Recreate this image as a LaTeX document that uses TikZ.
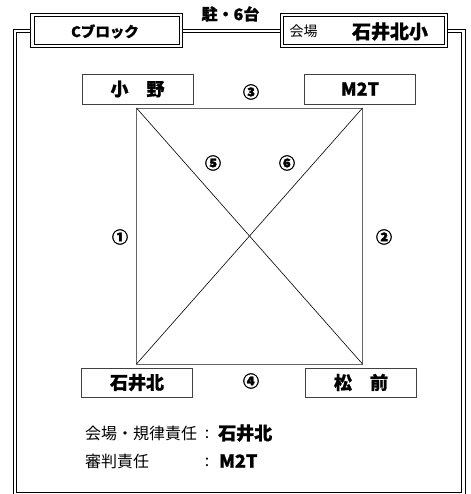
\documentclass[tikz,border=0pt]{standalone}
\usepackage{fontspec}
\setmainfont{Noto Sans CJK JP}[BoldFeatures={FakeBold=0.8}]
\newfontfamily\numfont{Noto Sans CJK JP}[BoldFeatures={FakeBold=2}]
\begin{document}
\begin{tikzpicture}[x=1pt,y=-1pt,
  frame/.style={draw=black, line width=1pt, double=white, double distance=2.5pt},
  hdr/.style={draw=black, line width=1.3pt, double=white, double distance=2.2pt, fill=white},
  pbox/.style={draw=black!75, line width=0.8pt, fill=white, minimum width=111pt, minimum height=30pt, inner sep=0pt, font=\bfseries\fontsize{18}{18}\selectfont},
  court/.style={draw=black!60, line width=0.9pt},
  diag/.style={draw=black, line width=0.6pt},
  num/.style={inner sep=0pt, font=\numfont\bfseries\fontsize{16}{16}\selectfont},
  txt/.style={inner sep=0pt, anchor=west, font=\fontsize{16}{16}\selectfont},
  btxt/.style={inner sep=0pt, anchor=west, font=\bfseries\fontsize{18}{18}\selectfont}]
\useasboundingbox (0,0) rectangle (470,494);
\fill[white] (0,0) rectangle (470,494);
% outer frame
\draw[frame] (15,31) rectangle (463.5,494);
% header boxes
\draw[hdr] (32.5,15) rectangle (181,46);
\draw[hdr] (282,15) rectangle (446,46);
\node[inner sep=0pt, font=\bfseries\fontsize{14.5}{14.5}\selectfont] (blk) at (105,31.5) {Cブロック};
\node[inner sep=0pt, font=\fontsize{14}{14}\selectfont] (kai) at (303.5,31.5) {会場};
\node[inner sep=0pt, font=\bfseries\fontsize{19}{19}\selectfont] (ven) at (390,31.5) {石井北小};
\node[inner sep=0pt, font=\bfseries\fontsize{16}{16}\selectfont] (park) at (230.5,14) {駐・6台};
% court
\coordinate (tl) at (136.5,108);
\coordinate (tr) at (362.5,108);
\coordinate (bl) at (136.5,364);
\coordinate (br) at (362.5,364);
\draw[court] (tl) -- (tr) -- (br) -- (bl) -- cycle;
\draw[diag] (tl) -- (br);
\draw[diag] (tr) -- (bl);
% team boxes
\node[pbox] (ono) at (137.5,89) {小　野};
\node[pbox] (m2t) at (360,89) {M2T};
\node[pbox, minimum height=29pt] (ish) at (137,382.5) {石井北};
\node[pbox, minimum height=29pt] (mat) at (361,382.5) {松　前};
% match numbers
\node[num] (n3) at (251,92) {③};
\node[num] (n4) at (251,381) {④};
\node[num] (n1) at (120,237) {①};
\node[num] (n2) at (384,237) {②};
\node[num] (n5) at (213,163) {⑤};
\node[num] (n6) at (287,163) {⑥};
% responsibilities
\node[txt] (r1) at (85,433) {会場・規律責任};
\node[txt, anchor=center] (c1) at (207,434) {:};
\node[btxt] (r1v) at (218,433) {石井北};
\node[txt] (r2) at (85,461) {審判責任};
\node[txt, anchor=center] (c2) at (207,462) {:};
\node[btxt] (r2v) at (219,461) {M2T};
\end{tikzpicture}
\end{document}
